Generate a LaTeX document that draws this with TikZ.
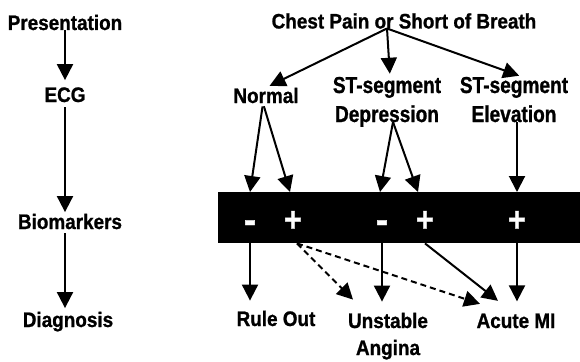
\documentclass[tikz,border=0pt]{standalone}
\usepackage{fontspec}
\setmainfont{Liberation Sans}[FakeStretch=0.9, BoldFeatures={FakeBold=1}]
\newfontfamily\stfont{Liberation Sans}[FakeStretch=0.83, BoldFeatures={FakeBold=1}]
\usetikzlibrary{arrows.meta,calc}
\begin{document}
\begin{tikzpicture}[x=1pt,y=-1pt,
  lbl/.style={font=\fontsize{21}{28}\selectfont\bfseries, inner sep=0pt, anchor=base},
  stl/.style={lbl, font=\stfont\fontsize{23}{28}\selectfont\bfseries},
  sym/.style={font=\fontsize{34}{34}\selectfont\bfseries, text=white, inner sep=0pt, anchor=base},
  arr/.style={line width=2pt, -{Triangle[length=16pt,width=16pt]}},
  dsh/.style={arr, dash pattern=on 6pt off 4pt}]
\useasboundingbox (0,0) rectangle (580,361);
% left column
\node[lbl] (pres) at (65,30) {Presentation};
\node[lbl] (ecg) at (65,102) {ECG};
\node[lbl] (bio) at (70,229) {Biomarkers};
\node[lbl] (diag) at (68,327) {Diagnosis};
\draw[arr, shorten >=7pt] (pres.south) -- (ecg.north);
\draw[arr, shorten <=5pt, shorten >=1.5pt] (ecg.south) -- (ecg.south |- bio.north);
\draw[arr, shorten <=4pt, shorten >=3.5pt] (bio.south -| ecg.south) -- (ecg.south |- diag.north);
% right part
\node[lbl] (chest) at (404,28.5) {Chest Pain or Short of Breath};
\node[lbl] (normal) at (266,103) {Normal};
\node[stl] (dep1) at (387,93) {ST-segment};
\node[stl] (dep) at (387,122) {Depression};
\node[stl] (elev1) at (514,93) {ST-segment};
\node[stl] (elev) at (514,122) {Elevation};
\node[fill=black, minimum width=362, minimum height=51, inner sep=0pt, anchor=north west] (box) at (218,192) {};
\node[sym, font=\fontsize{40}{40}\selectfont\bfseries] (m1) at (250,233) {-};
\node[sym] (p1) at (293,231) {+};
\node[sym, font=\fontsize{40}{40}\selectfont\bfseries] (m2) at (382,233) {-};
\node[sym] (p2) at (425,231) {+};
\node[sym] (p3) at (517,231) {+};
\node[lbl] (rule) at (276,326) {Rule Out};
\node[lbl] (unst) at (388,328) {Unstable};
\node[lbl] (ang) at (388,355) {Angina};
\node[lbl] (acute) at (516,328) {Acute MI};
% arrows from chest pain
\draw[arr, shorten >=4pt] ([xshift=-17pt]chest.base) -- (normal.north);
\draw[arr, shorten >=3pt] ([xshift=-17pt]chest.base) -- ([xshift=3pt]dep1.north);
\draw[arr, shorten >=3pt] ([xshift=-17pt]chest.base) -- ([xshift=8pt]elev1.north);
% ECG to biomarkers
\draw[arr, shorten <=3pt] ([xshift=-3pt]normal.south) -- (m1 |- box.north);
\draw[arr, shorten <=3pt] ([xshift=-3pt]normal.south) -- ($(p1 |- box.north)+(-3,0)$);
\draw[arr] ($(dep.base)+(6,0)$) -- ($(m2 |- box.north)+(-2,0)$);
\draw[arr] ($(dep.base)+(6,0)$) -- ($(p2 |- box.north)+(-7,0)$);
\draw[arr] (p3 |- elev.base) -- (p3 |- box.north);
% biomarkers to diagnosis
\draw[arr, shorten >=10pt] (m1 |- box.south) -- (m1 |- rule.north);
\draw[dsh] ($(p1 |- box.south)+(4,0)$) -- ($(unst.north)+(-35,-13)$);
\draw[dsh] ($(p1 |- box.south)+(4,0)$) -- ($(acute.north)+(-36,-9.5)$);
\draw[arr, shorten >=11pt] (m2 |- box.south) -- (m2 |- unst.north);
\draw[arr] (p2 |- box.south) -- ($(acute.north)+(-18,-12.5)$);
\draw[arr, shorten >=12pt] (p3 |- box.south) -- (p3 |- acute.north);
\end{tikzpicture}
\end{document}
